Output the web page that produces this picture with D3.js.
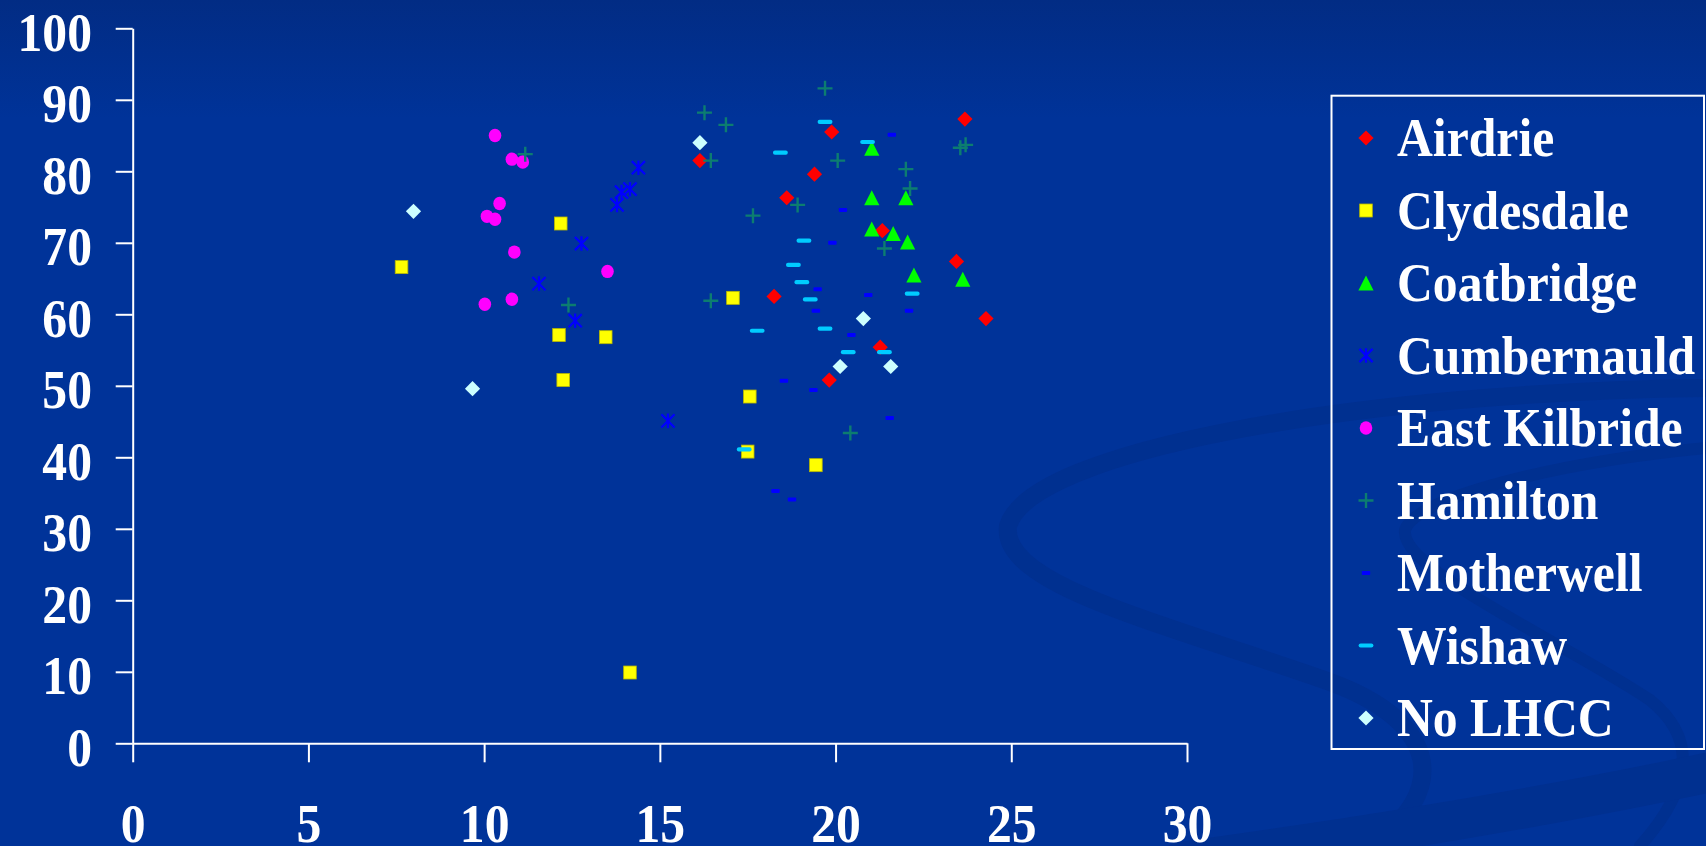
<!DOCTYPE html>
<html>
<head>
<meta charset="utf-8">
<script src="https://cdn.jsdelivr.net/npm/d3@7"></script>
<style>
  html, body { margin: 0; padding: 0; background: #003399; overflow: hidden; }
  svg { display: block; }
</style>
</head>
<body>
<svg id="chart" width="1706" height="846"></svg>
<script>
// ---------------- DATA ----------------
const seriesNames = ["Airdrie", "Clydesdale", "Coatbridge", "Cumbernauld", "East Kilbride", "Hamilton", "Motherwell", "Wishaw", "No LHCC"];

const airdrie = [[16.14,81.5],[23.68,87.3],[19.89,85.5],[19.40,79.6],[18.61,76.3],[21.33,71.7],[23.44,67.4],[18.25,62.5],[24.28,59.4],[21.27,55.4],[19.82,50.8]];
const clydesdale = [[7.65,66.6],[12.18,72.7],[17.08,62.3],[12.13,57.1],[13.46,56.8],[12.25,50.8],[17.56,48.5],[17.50,40.8],[19.44,38.9],[14.15,9.9]];
const coatbridge = [[21.03,83.2],[21.03,76.3],[22.00,76.3],[21.03,71.9],[21.64,71.3],[22.05,70.1],[22.23,65.5],[23.62,64.9]];
const cumbernauld = [[14.39,80.5],[14.15,77.5],[13.91,77.1],[13.78,75.3],[12.77,69.9],[11.56,64.3],[12.59,59.1],[15.23,45.1]];
const eastKilbride = [[10.31,85.0],[10.79,81.7],[11.10,81.3],[10.44,75.5],[10.08,73.7],[10.31,73.3],[10.86,68.7],[13.51,66.0],[10.79,62.1],[10.02,61.4]];
const hamilton = [[19.70,91.6],[16.27,88.2],[16.88,86.5],[16.45,81.5],[20.06,81.5],[22.00,80.3],[22.12,77.6],[23.55,83.3],[23.70,83.7],[18.92,75.3],[17.65,73.8],[21.39,69.2],[16.45,61.9],[11.17,82.4],[12.40,61.3],[20.42,43.4]];
const motherwell = [[21.60,85.1],[20.21,74.6],[19.91,70.0],[19.49,63.5],[20.93,62.7],[19.44,60.5],[22.09,60.5],[20.45,57.1],[18.53,50.7],[19.37,49.4],[21.54,45.5],[18.29,35.3],[18.76,34.1]];
const wishaw = [[19.70,86.9],[20.91,84.1],[18.43,82.6],[19.10,70.3],[18.80,66.9],[19.04,64.5],[19.28,62.1],[22.18,62.9],[17.77,57.7],[19.70,58.0],[20.36,54.7],[21.39,54.7],[17.40,41.1]];
const noLHCC = [[7.99,74.4],[9.67,49.6],[16.14,84.0],[20.79,59.4],[20.13,52.7],[21.57,52.7]];

const xTicks = [0, 5, 10, 15, 20, 25, 30];
const yTicks = [0, 10, 20, 30, 40, 50, 60, 70, 80, 90, 100];

// ---------------- STYLE ----------------
const FONT = "'Liberation Serif', 'Times New Roman', Times, serif";
const series = [
  { name: seriesNames[0], data: airdrie,      shape: "diamond",  color: "#ff0000" },
  { name: seriesNames[1], data: clydesdale,   shape: "square",   color: "#ffff00" },
  { name: seriesNames[2], data: coatbridge,   shape: "triangle", color: "#00ff00" },
  { name: seriesNames[3], data: cumbernauld,  shape: "asterisk", color: "#0000ff" },
  { name: seriesNames[4], data: eastKilbride, shape: "circle",   color: "#ff00ff" },
  { name: seriesNames[5], data: hamilton,     shape: "plus",     color: "#0c7d70" },
  { name: seriesNames[6], data: motherwell,   shape: "dash",     color: "#0000ff" },
  { name: seriesNames[7], data: wishaw,       shape: "longdash", color: "#00ccff" },
  { name: seriesNames[8], data: noLHCC,       shape: "diamond",  color: "#ccffff" }
];

const svg = d3.select("#chart");

// ---------------- BACKGROUND ----------------
const defs = svg.append("defs");
const grad = defs.append("linearGradient").attr("id", "bg").attr("x1", 0).attr("y1", 0).attr("x2", 0).attr("y2", 1);
grad.append("stop").attr("offset", 0).attr("stop-color", "#022c84");
grad.append("stop").attr("offset", 0.14).attr("stop-color", "#003399");
grad.append("stop").attr("offset", 1).attr("stop-color", "#003399");
svg.append("rect").attr("width", 1706).attr("height", 846).attr("fill", "url(#bg)");

const deco = svg.append("g").attr("fill", "none").attr("stroke", "#003090").attr("stroke-linecap", "round");
deco.append("path").attr("stroke-width", 18)
  .attr("d", "M1706,388 C1360,392 1030,450 1008,526 C1000,585 1160,622 1330,682 C1440,722 1450,792 1370,846");
deco.append("path").attr("stroke-width", 12)
  .attr("d", "M1706,448 C1560,462 1415,497 1405,530 C1400,570 1560,640 1650,700 C1700,740 1690,790 1640,846");
deco.append("path").attr("stroke-width", 40)
  .attr("d", "M1180,862 C1400,832 1580,800 1720,770");

// ---------------- SCALES / AXES ----------------
const x = d3.scaleLinear().domain([0, 30]).range([132.7, 1187]);
const y = d3.scaleLinear().domain([0, 100]).range([743.3, 28.3]);
const SX = 0.92; // horizontal condensing of the serif labels

const gy = svg.append("g").attr("transform", `translate(${x(0)},0)`).attr("color", "#ffffff")
  .call(d3.axisLeft(y).tickValues(yTicks).tickSize(17).tickSizeOuter(0).tickFormat(d3.format("d")));
gy.select(".domain").attr("stroke-width", 2);
gy.selectAll(".tick line").attr("stroke-width", 2);
gy.selectAll(".tick text")
  .attr("font-family", FONT).attr("font-weight", "bold").attr("font-size", 54)
  .attr("text-anchor", "end").attr("dy", null).attr("y", 21.7)
  .attr("x", -40.7 / SX).attr("transform", `scale(${SX},1)`);

const gx = svg.append("g").attr("transform", `translate(0,${y(0)})`).attr("color", "#ffffff")
  .call(d3.axisBottom(x).tickValues(xTicks).tickSize(19).tickSizeOuter(0).tickFormat(d3.format("d")));
gx.select(".domain").attr("stroke-width", 2);
gx.selectAll(".tick line").attr("stroke-width", 2);
gx.selectAll(".tick text")
  .attr("font-family", FONT).attr("font-weight", "bold").attr("font-size", 54)
  .attr("text-anchor", "middle").attr("dy", null).attr("y", 99)
  .attr("transform", `scale(${SX},1)`);
svg.selectAll(".domain, .tick line").attr("stroke", "#ffffff");

// ---------------- MARKERS ----------------
function drawMarker(g, shape, color) {
  switch (shape) {
    case "diamond":
      g.append("path").attr("d", "M0,-7.6L7.6,0L0,7.6L-7.6,0Z").attr("fill", color);
      break;
    case "square":
      g.append("rect").attr("x", -6.3).attr("y", -6.5).attr("width", 12.6).attr("height", 13)
        .attr("fill", color).attr("stroke", "#b8b800").attr("stroke-width", 0.8);
      break;
    case "triangle":
      g.append("path").attr("d", "M0,-7.6L7.6,7.4L-7.6,7.4Z").attr("fill", color);
      break;
    case "asterisk":
      g.append("path").attr("d", "M0,-7.3V7.3M-6.6,-6.6L6.6,6.6M-6.6,6.6L6.6,-6.6")
        .attr("stroke", color).attr("stroke-width", 2.2).attr("fill", "none");
      break;
    case "circle":
      g.append("ellipse").attr("rx", 6.3).attr("ry", 6.7).attr("fill", color);
      break;
    case "plus":
      g.append("path").attr("d", "M-7.5,0H7.5M0,-7.5V7.5")
        .attr("stroke", color).attr("stroke-width", 2.4).attr("fill", "none");
      break;
    case "dash":
      g.append("rect").attr("x", -4.2).attr("y", -2).attr("width", 8.4).attr("height", 4)
        .attr("rx", 0.8).attr("fill", color);
      break;
    case "longdash":
      g.append("rect").attr("x", -7.4).attr("y", -2.1).attr("width", 14.8).attr("height", 4.2)
        .attr("rx", 2).attr("fill", color);
      break;
  }
}

const plot = svg.append("g");
series.forEach(s => {
  const gs = plot.append("g").attr("class", "series");
  gs.selectAll("g.pt").data(s.data).join("g").attr("class", "pt")
    .attr("transform", d => `translate(${x(d[0])},${y(d[1])})`)
    .each(function () { drawMarker(d3.select(this), s.shape, s.color); });
});

// ---------------- LEGEND ----------------
const legend = svg.append("g");
legend.append("rect").attr("x", 1331.5).attr("y", 95.7).attr("width", 372.5).attr("height", 653.3)
  .attr("fill", "none").attr("stroke", "#ffffff").attr("stroke-width", 2);
const rowY = d3.scalePoint().domain(seriesNames).range([156, 736]);
series.forEach(s => {
  const by = rowY(s.name);
  const mg = legend.append("g").attr("transform", `translate(1366,${by - 18})`);
  drawMarker(mg, s.shape, s.color);
  legend.append("g").attr("transform", `translate(1397,${by}) scale(${SX},1)`)
    .append("text").text(s.name)
    .attr("font-family", FONT).attr("font-weight", "bold").attr("font-size", 54)
    .attr("fill", "#ffffff");
});
</script>
</body>
</html>
